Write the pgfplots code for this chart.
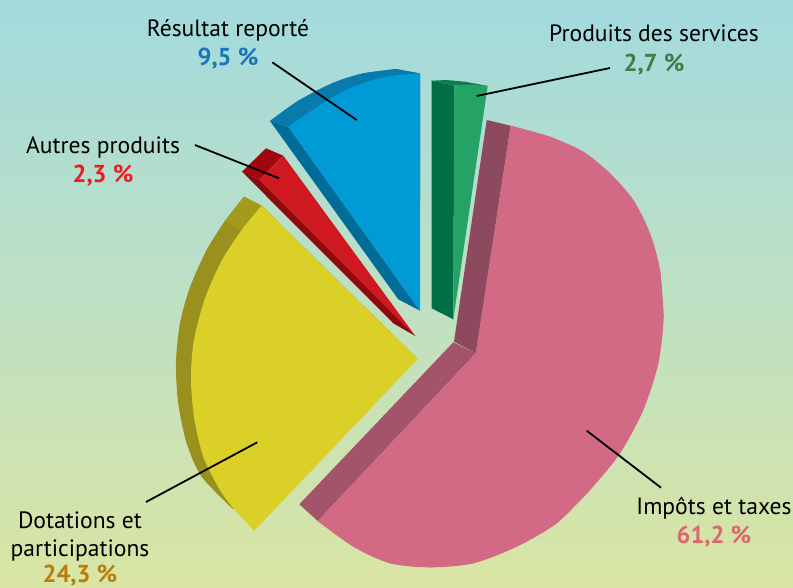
\documentclass[border=0pt]{standalone}
\usepackage{pgfplots}
\pgfplotsset{compat=1.18}
\usepackage{fontspec}
\setmainfont{PT Sans}
\definecolor{bgA}{RGB}{163,218,222}
\definecolor{bgB}{RGB}{190,224,196}
\definecolor{bgC}{RGB}{217,229,163}
\definecolor{pinkF}{RGB}{210,105,133}
\definecolor{pinkS}{RGB}{141,74,94}
\definecolor{pinkT}{RGB}{163,83,106}
\definecolor{yelF}{RGB}{219,208,40}
\definecolor{yelS}{RGB}{154,144,30}
\definecolor{yelT}{RGB}{164,155,29}
\definecolor{redF}{RGB}{207,24,32}
\definecolor{redS}{RGB}{143,8,14}
\definecolor{redT}{RGB}{160,6,15}
\definecolor{bluF}{RGB}{0,155,214}
\definecolor{bluS}{RGB}{0,108,152}
\definecolor{bluT}{RGB}{8,122,172}
\definecolor{grnF}{RGB}{37,162,101}
\definecolor{grnS}{RGB}{0,111,67}
\definecolor{grnT}{RGB}{12,125,78}
\definecolor{txB}{RGB}{27,117,188}
\definecolor{txG}{RGB}{63,125,74}
\definecolor{txR}{RGB}{237,28,36}
\definecolor{txY}{RGB}{185,125,10}
\definecolor{txP}{RGB}{217,104,111}
\newcommand{\lab}[1]{\fontsize{23.6}{28}\selectfont #1}
\newcommand{\labb}[1]{\fontsize{24.5}{28}\selectfont\bfseries #1}
\begin{document}
\begin{tikzpicture}
\begin{axis}[
  scale only axis, width=793pt, height=587pt,
  xmin=0, xmax=793, ymin=0, ymax=587, y dir=reverse,
  hide axis, clip=true,
  every axis plot/.append style={no markers, draw=none},
]
\fill[top color=bgA, bottom color=bgC, middle color=bgB] (axis cs:0,0) rectangle (axis cs:793,587);

% Impots
\addplot[fill=pinkS] coordinates {(486.7,120)(510.7,125.7)(476,353.3)(454,341.7)};
\addplot[fill=pinkT] coordinates {(453.3,342.3)(475.7,353.3)(317.7,521)(299.3,504.3)};
\addplot[fill=pinkF] coordinates {(475.7,353.3)(510.7,125.7)(550,136.7)(583.3,151.7)(610,173.3)(633.3,200)(650,233.3)(660,270)(663.5,318)(658.3,363.3)(643.3,410)(620,453.3)(590,490)(556.7,523.3)(516.7,546.7)(473.3,563.3)(430,567.3)(390,563.3)(353.3,546.7)(317.7,521)};
\addplot[fill=pinkF, smooth] coordinates {(510.7,125.7)(550,136.7)(583.3,151.7)(610,173.3)(633.3,200)(650,233.3)(660,270)(663.5,318)};
\addplot[fill=pinkF, smooth] coordinates {(660,270)(663.5,318)(658.3,363.3)(643.3,410)(620,453.3)(590,490)(556.7,523.3)};
\addplot[fill=pinkF, smooth] coordinates {(590,490)(556.7,523.3)(516.7,546.7)(473.3,563.3)(430,567.3)(390,563.3)(353.3,546.7)(317.7,521)};

% Dotations
\addplot[fill=yelS] coordinates {(417.7,359)(261.7,205.7)(244,196.7)(225,221)(206.7,250)(190,287.3)(180,323.3)(176,363.3)(178.3,403.3)(186.7,443.3)(201.7,476.7)(233,509)};
\addplot[fill=yelS, smooth] coordinates {(244,196.7)(225,221)(206.7,250)(190,287.3)(180,323.3)(176,363.3)(178.3,403.3)(186.7,443.3)(201.7,476.7)(233,509)};
\addplot[fill=yelT] coordinates {(261.7,205.7)(244,196.7)(225,221)(241.7,230)};
\addplot[fill=yelF] coordinates {(417.7,359)(261.7,205.7)(241.7,230)(221.7,260.7)(205,298.3)(194,340)(191,376.7)(194,416.7)(203.3,456.7)(220,490)(233.3,508.3)(254,531)};
\addplot[fill=yelF, smooth] coordinates {(261.7,205.7)(241.7,230)(221.7,260.7)(205,298.3)(194,340)(191,376.7)(194,416.7)(203.3,456.7)(220,490)(233.3,508.3)};

% Autres produits
\addplot[fill=redT] coordinates {(266,148.3)(283.3,155.7)(259.3,179.3)(242,171.7)};
\addplot[fill=redS] coordinates {(242,171.7)(259.3,179.3)(415.3,336)(393.3,323.3)};
\addplot[fill=redF] coordinates {(283.3,155.7)(259.3,179.3)(415.3,336)};

% Resultat reporte
\addplot[fill=bluT] coordinates {(420,73.3)(396.7,69)(363.3,73.3)(333.3,82.7)(298.3,100.7)(270,121)(288.3,126.7)(420,200)};
\addplot[fill=bluT, smooth] coordinates {(396.7,69)(363.3,73.3)(333.3,82.7)(298.3,100.7)(270,121)};
\addplot[fill=bluS] coordinates {(270,121)(288.3,126.7)(420,310.7)(398.3,299.3)};
\addplot[fill=bluF] coordinates {(420,310.7)(288.3,126.7)(326.7,100.7)(351.7,87.3)(385,77)(420,73.3)};
\addplot[fill=bluF, smooth] coordinates {(288.3,126.7)(326.7,100.7)(351.7,87.3)(385,77)(420,73.3)};

% Produits des services
\addplot[fill=grnT] coordinates {(431.7,80.7)(446.7,80)(465,81.7)(487.7,86)(454.3,85.7)};
\addplot[fill=grnS] coordinates {(431.7,80.7)(454.3,85.7)(453.3,319.3)(431.7,308.3)};
\addplot[fill=grnF] coordinates {(454.3,85.7)(470,84.7)(487.7,86)(453.3,319.3)};

% leader lines
\addplot[draw=black, line width=1.8pt] coordinates {(272.3,62.3)(356.7,120)};
\addplot[draw=black, line width=1.8pt] coordinates {(476.7,96)(610,68)};
\addplot[draw=black, line width=1.8pt] coordinates {(195,145)(279,178.3)};
\addplot[draw=black, line width=1.8pt] coordinates {(257.3,442.3)(146,502)};
\addplot[draw=black, line width=1.8pt] coordinates {(586.7,430.7)(661,487.7)};

\node[overlay, anchor=base] at (axis cs:228,36) {\lab{Résultat reporté}};
\node[overlay, anchor=base, text=txB] at (axis cs:228,65) {\labb{9,5 \%}};
\node[overlay, anchor=base] at (axis cs:654,41) {\lab{Produits des services}};
\node[overlay, anchor=base, text=txG] at (axis cs:654,71) {\labb{2,7 \%}};
\node[overlay, anchor=base] at (axis cs:103,153) {\lab{Autres produits}};
\node[overlay, anchor=base, text=txR] at (axis cs:103,182) {\labb{2,3 \%}};
\node[overlay, anchor=base] at (axis cs:80,528) {\lab{Dotations et}};
\node[overlay, anchor=base] at (axis cs:80,556) {\lab{participations}};
\node[overlay, anchor=base, text=txY] at (axis cs:80,582.5) {\labb{24,3 \%}};
\node[overlay, anchor=base] at (axis cs:714,514) {\lab{Impôts et taxes}};
\node[overlay, anchor=base, text=txP] at (axis cs:714,543) {\labb{61,2 \%}};
\end{axis}
\end{tikzpicture}
\end{document}
